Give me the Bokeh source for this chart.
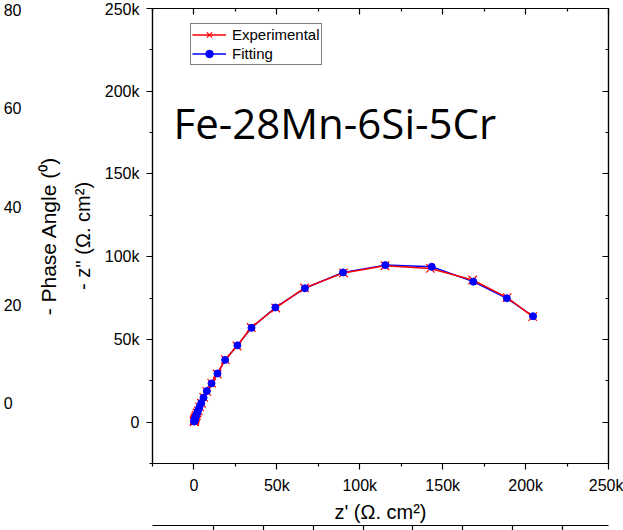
from bokeh.plotting import figure
from bokeh.models import (LinearAxis, Range1d, Label, Legend, LegendItem,
                          FixedTicker, CustomJSTickFormatter)
from bokeh.embed import file_html
from bokeh.resources import INLINE
import numpy as np

# Nyquist data for Fe-28Mn-6Si-5Cr, impedance in kOhm.cm2
z_real_exp = [204.3, 188.9, 168.1, 142.6, 115.2, 90.2, 66.7, 49.3, 34.5, 26.0,
              18.9, 14.0, 10.7, 7.7, 5.9, 4.5, 3.4, 2.6, 1.9, 1.45,
              1.1, 0.8, 0.6, 0.45, 0.33, 0.25, 0.19, 0.15, 0.12]
z_imag_exp = [63.8, 75.3, 85.9, 92.9, 94.5, 90.2, 81.1, 69.0, 57.2, 46.0,
              37.8, 29.1, 23.6, 18.6, 15.0, 11.4, 9.2, 6.8, 5.5, 4.1,
              3.3, 2.4, 1.9, 1.4, 1.1, 0.8, 0.6, 0.5, 0.4]
z_real_fit = [204.5, 188.7, 168.5, 143.4, 115.4, 89.9, 66.9, 49.1, 34.7, 26.2,
              18.8, 14.2, 10.6, 7.8, 5.8, 4.4, 3.3, 2.5, 1.9, 1.4,
              1.05, 0.78, 0.58, 0.43, 0.32, 0.24, 0.18, 0.14, 0.11]
z_imag_fit = [64.0, 74.9, 84.9, 93.9, 94.9, 90.5, 80.9, 69.3, 57.0, 46.4,
              37.6, 29.4, 23.4, 18.8, 14.8, 11.6, 9.0, 7.0, 5.4, 4.2,
              3.2, 2.5, 1.9, 1.5, 1.1, 0.85, 0.65, 0.5, 0.4]

# axis ticks (Ohm.cm2)
major_ticks = [0, 50000, 100000, 150000, 200000, 250000]
minor_ticks = [-25000, 25000, 75000, 125000, 175000, 225000]

# neighbouring panels: phase-angle scale on the left, Bode panel below
phase_ticks = [0, 20, 40, 60, 80]
bode_ticks = [0, 1, 2, 3, 4, 5, 6, 7]

FONT = "Liberation Sans"
K = 1000.0
FSP = "\u2007"  # figure space, keeps the phase labels flush left

p = figure(width=623, height=530, output_backend="svg", toolbar_location=None,
           x_range=Range1d(-25000, 250000), y_range=Range1d(-25000, 250000),
           min_border_left=151, min_border_right=15, min_border_top=8,
           min_border_bottom=64, x_axis_type=None, y_axis_type=None)
p.grid.visible = False
p.outline_line_color = "black"
p.outline_line_width = 1.2
p.background_fill_color = "white"
p.border_fill_color = "white"

p.extra_y_ranges = {"phase": Range1d(-12.12, 80.4)}
p.extra_x_ranges = {"bode_x": Range1d(-1.22, 7.92)}

kfmt = CustomJSTickFormatter(code="return tick == 0 ? '0' : (tick/1000) + 'k';")
blank = CustomJSTickFormatter(code="return '';")


def style_axis(ax, outward):
    ax.ticker = FixedTicker(ticks=major_ticks, minor_ticks=minor_ticks)
    ax.axis_line_width = 1.2
    ax.major_tick_line_width = 1.2
    ax.minor_tick_line_width = 1.2
    if outward:
        ax.major_tick_out, ax.major_tick_in = 6, 0
        ax.minor_tick_out, ax.minor_tick_in = 3, 0
        ax.formatter = kfmt
        ax.major_label_text_font = FONT
        ax.major_label_text_font_size = "16px"
        ax.major_label_text_color = "black"
        ax.major_label_standoff = 7
        ax.axis_label_text_font = FONT
        ax.axis_label_text_font_size = "20px"
        ax.axis_label_text_font_style = "normal"
        ax.axis_label_text_color = "black"
    else:
        ax.major_tick_out, ax.major_tick_in = 0, 6
        ax.minor_tick_out, ax.minor_tick_in = 0, 3
        ax.formatter = blank
        ax.major_label_text_font_size = "0px"
        ax.major_label_standoff = 0


xb = LinearAxis(axis_label="z' (Ω. cm²)")
style_axis(xb, True)
xb.axis_label_standoff = 4
yl = LinearAxis(axis_label="- z'' (Ω. cm²)")
style_axis(yl, True)
yl.axis_label_standoff = 8
xt = LinearAxis()
style_axis(xt, False)
yr = LinearAxis()
style_axis(yr, False)
p.add_layout(xb, "below")
p.add_layout(yl, "left")
p.add_layout(xt, "above")
p.add_layout(yr, "right")

# phase-angle title and scale of the Bode panel on the left
phase_title = LinearAxis(y_range_name="phase", ticker=FixedTicker(ticks=[]),
                         axis_line_color=None, major_tick_out=0, minor_tick_out=0,
                         major_label_standoff=0, axis_label="- Phase Angle (⁰)",
                         axis_label_text_font=FONT, axis_label_text_font_size="21px",
                         axis_label_text_font_style="normal", axis_label_text_color="black",
                         axis_label_standoff=9)
p.add_layout(phase_title, "left")
phase_scale = LinearAxis(y_range_name="phase",
                         ticker=FixedTicker(ticks=phase_ticks, minor_ticks=[]),
                         axis_line_color=None, major_tick_line_color=None,
                         major_tick_out=0, major_tick_in=0, minor_tick_out=0,
                         major_label_standoff=12, major_label_text_font=FONT,
                         major_label_text_font_size="16px", major_label_text_color="black",
                         major_label_overrides={0: "0" + FSP})
p.add_layout(phase_scale, "left")

# small gap, then the top edge of the panel underneath
gap = LinearAxis(ticker=FixedTicker(ticks=[]), axis_line_color=None,
                 major_tick_out=1, major_tick_in=0, minor_tick_out=0,
                 major_label_standoff=0, major_label_text_font_size="0px")
p.add_layout(gap, "below")
bode = LinearAxis(x_range_name="bode_x", ticker=FixedTicker(ticks=bode_ticks, minor_ticks=[]),
                  formatter=blank, major_label_text_font_size="0px", major_label_standoff=0,
                  major_tick_in=0, major_tick_out=5, axis_line_width=1.2,
                  major_tick_line_width=1.2)
p.add_layout(bode, "below")

xe = np.array(z_real_exp) * K
ye = np.array(z_imag_exp) * K
xf = np.array(z_real_fit) * K
yf = np.array(z_imag_fit) * K

r_fit_line = p.line(xf, yf, line_color="#0000FF", line_width=1.5)
r_exp_line = p.line(xe, ye, line_color="#FF0000", line_width=1.5)
r_exp_pts = p.scatter(xe, ye, marker="x", size=12, line_color="#FF0000", line_width=1.2)
r_fit_pts = p.scatter(xf, yf, marker="circle", size=7, fill_color="#0000FF",
                      line_color="#0000FF")

legend = Legend(items=[LegendItem(label="Experimental", renderers=[r_exp_line, r_exp_pts]),
                       LegendItem(label="Fitting", renderers=[r_fit_line, r_fit_pts])],
                location=(38, 398), padding=1, spacing=0, margin=0,
                glyph_width=34, glyph_height=19, label_height=19, label_standoff=6,
                label_text_font=FONT, label_text_font_size="15px", label_text_color="black",
                border_line_color="black", border_line_width=1.2,
                background_fill_color="white", background_fill_alpha=1)
p.add_layout(legend, "center")

p.add_layout(Label(x=21, y=341, x_units="screen", y_units="screen",
                   text="Fe-28Mn-6Si-5Cr", text_font="Open Sans",
                   text_font_size="42px", text_color="black",
                   text_baseline="middle"))

open("out.html", "w").write(file_html(p, INLINE))
